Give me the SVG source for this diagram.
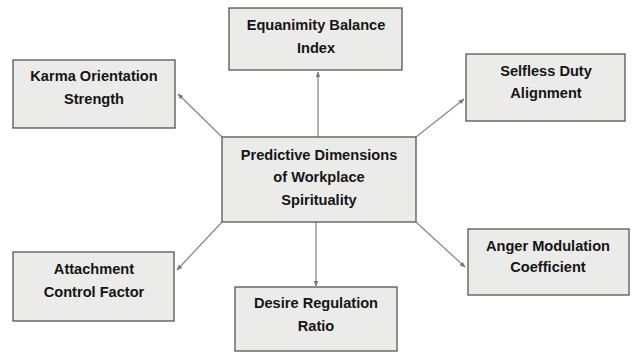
<svg xmlns="http://www.w3.org/2000/svg" width="632" height="352" viewBox="0 0 632 352">
  <defs>
    <marker id="arr" viewBox="0 0 10 10" refX="9" refY="5" markerWidth="4.5" markerHeight="4.5" orient="auto" markerUnits="strokeWidth">
      <path d="M0,1 L10,5 L0,9 z" fill="#7a7a7a"/>
    </marker>
  </defs>
  <style>
    .box { fill: #ebebea; stroke: #555; stroke-width: 1.3; }
    .lbl { font-family: "Liberation Sans", Arial, sans-serif; font-weight: bold; font-size: 14.6px; fill: #151515; text-anchor: middle; }
    .conn { stroke: #8a8a8a; stroke-width: 1.3; fill: none; marker-end: url(#arr); }
  </style>
  <rect width="632" height="352" fill="#ffffff"/>
  <g id="connectors">
    <line class="conn" x1="318" y1="137" x2="318" y2="72"/>
    <line class="conn" x1="222" y1="137" x2="178" y2="94"/>
    <line class="conn" x1="416" y1="137" x2="464" y2="99"/>
    <line class="conn" x1="222" y1="222" x2="177" y2="270"/>
    <line class="conn" x1="316" y1="222" x2="316" y2="286"/>
    <line class="conn" x1="416" y1="222" x2="465" y2="267"/>
  </g>
  <g id="equanimity">
    <rect class="box" x="229" y="8" width="173" height="62"/>
    <text class="lbl" x="316" y="30">Equanimity Balance</text>
    <text class="lbl" x="316" y="53">Index</text>
  </g>
  <g id="karma">
    <rect class="box" x="13" y="60" width="162" height="68"/>
    <text class="lbl" x="94" y="81">Karma Orientation</text>
    <text class="lbl" x="94" y="104">Strength</text>
  </g>
  <g id="selfless">
    <rect class="box" x="466" y="54" width="159" height="67"/>
    <text class="lbl" x="546" y="76">Selfless Duty</text>
    <text class="lbl" x="546" y="98">Alignment</text>
  </g>
  <g id="center">
    <rect class="box" x="222" y="137" width="194" height="85"/>
    <text class="lbl" x="319" y="160">Predictive Dimensions</text>
    <text class="lbl" x="319" y="182">of Workplace</text>
    <text class="lbl" x="319" y="205">Spirituality</text>
  </g>
  <g id="attachment">
    <rect class="box" x="13" y="252" width="161" height="69"/>
    <text class="lbl" x="94" y="274">Attachment</text>
    <text class="lbl" x="94" y="297">Control Factor</text>
  </g>
  <g id="desire">
    <rect class="box" x="235" y="287" width="162" height="64"/>
    <text class="lbl" x="316" y="308">Desire Regulation</text>
    <text class="lbl" x="316" y="331">Ratio</text>
  </g>
  <g id="anger">
    <rect class="box" x="468" y="229" width="161" height="66"/>
    <text class="lbl" x="548" y="251">Anger Modulation</text>
    <text class="lbl" x="548" y="272">Coefficient</text>
  </g>
</svg>
